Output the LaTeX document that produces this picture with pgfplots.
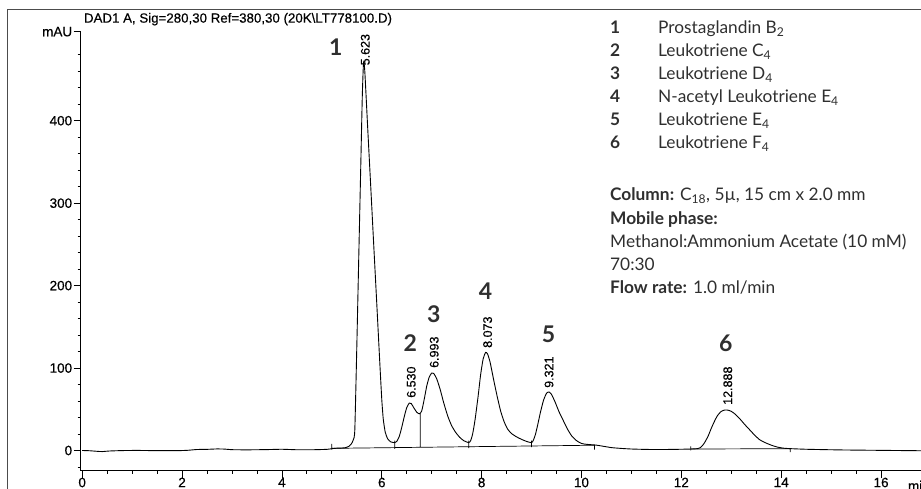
\documentclass[border=0pt]{standalone}
\usepackage{fontspec}
\setmainfont{Lato}
\newfontfamily\scan{Liberation Sans}[FakeBold=0.4]
\usepackage{pgfplots}
\pgfplotsset{compat=1.18}
\definecolor{txt}{HTML}{2F2F2F}
\tikzset{
  rt/.style={rotate=90, anchor=west, inner sep=0pt, font=\scan\fontsize{12.5}{12.5}\selectfont},
  pk/.style={font=\bfseries\fontsize{23}{23}\selectfont, text=txt},
}

% detector signal, mAU against min
\pgfplotstableread{
t s
0 0
0.15 -0.3
0.3 -1.0
0.4 -1.3
0.55 -0.6
0.8 -0.1
1.1 0.1
1.5 -0.2
1.9 -0.2
2.1 0.2
2.3 1.2
2.5 1.4
2.7 1.9
2.85 1.7
3.0 1.0
3.3 0.8
3.7 1.1
4.0 1.5
4.3 0.9
4.6 0.9
4.9 1.4
5.0 2.2
5.1 2.8
5.2 3
5.28 3.5
5.34 5
5.39 8
5.43 13
5.46 25
5.50 126
5.54 237
5.58 347
5.61 430
5.635 471
5.66 460
5.72 389
5.78 319
5.84 248
5.90 178
5.96 107
6.00 62
6.03 38
6.07 22
6.12 14
6.18 10.5
6.26 9.5
6.30 11
6.35 17
6.40 28
6.45 41
6.50 52
6.55 57.5
6.59 57
6.64 52
6.70 46.5
6.755 44.5
6.80 48
6.85 62
6.90 78
6.95 89
7.00 94
7.04 93.5
7.10 87
7.17 74
7.24 58
7.32 42
7.40 30
7.48 22
7.56 16
7.64 12
7.74 9.5
7.78 12
7.82 20
7.87 38
7.93 66
7.98 92
8.03 111
8.08 119
8.12 117
8.17 107
8.24 86
8.31 66
8.38 48
8.45 35
8.52 26
8.60 20.5
8.70 16.5
8.80 13.5
8.90 11
9.0 9.5
9.04 13
9.08 20
9.13 33
9.18 47
9.24 61
9.30 69.5
9.35 71
9.40 68
9.47 59
9.55 47
9.63 37
9.71 27
9.80 18
9.90 12
10.0 8.5
10.1 7.5
10.2 7
10.3 6.5
10.45 5
10.6 3.5
10.8 2.5
11.0 1.8
11.3 1.3
11.6 1.2
11.9 1.4
12.2 1.8
12.33 2.3
12.38 3.5
12.43 6.5
12.48 11
12.54 18
12.60 27
12.66 35
12.72 42
12.79 47
12.86 49
12.93 49
13.00 47.5
13.08 44
13.17 38.5
13.27 31.5
13.37 25
13.47 18.5
13.57 13
13.68 9.5
13.80 6.5
13.92 4.2
14.05 2.8
14.2 2.2
14.5 1.5
14.9 1
15.3 0.6
15.8 0.3
16.3 0
16.8 -0.3
}\signal

% integration baselines, drop line and peak start/end marks
\pgfplotstableread{
t s
5.0 2.6
10.26 6.4
nan nan
12.19 1.8
14.18 2.2
nan nan
6.77 3.9
6.77 45
nan nan
5.0 1
5.0 8
nan nan
6.26 2
6.26 12
nan nan
7.74 3
7.74 12
nan nan
9.0 4
9.0 12
nan nan
10.26 1
10.26 7
nan nan
12.19 0
12.19 5
nan nan
14.18 -2
14.18 3
}\marks

\begin{document}
\begin{tikzpicture}
\begin{axis}[
    scale only axis,
    width=840.3pt, height=439pt,
    xmin=-0.03, xmax=16.8,
    ymin=-24.5, ymax=508,
    axis lines*=left,
    axis line style={-, line width=0.9pt},
    xtick={0,2,...,16},
    minor x tick num=3,
    ytick={0,100,200,300,400,508},
    yticklabels={0,100,200,300,400,mAU},
    minor ytick={-20,20,40,60,80,120,140,160,180,220,240,260,280,320,340,360,380,420,440,460,480},
    tick align=outside,
    major tick length=7pt,
    minor tick length=3pt,
    tick style={black, line width=0.8pt},
    ticklabel style={font=\scan\fontsize{13.5}{13.5}\selectfont},
    yticklabel style={xshift=2pt},
    xticklabel style={yshift=3.5pt},
    /pgf/number format/assume math mode=true,
    clip=false,
]
\addplot[black, line width=0.9pt, smooth, tension=0.35] table[x=t, y=s] {\signal};
\addplot[black, line width=0.7pt, unbounded coords=jump] table[x=t, y=s] {\marks};

\node[rt] at (axis cs:5.67,467) {5.623};
\node[rt] at (axis cs:6.59,63.7) {6.530};
\node[rt] at (axis cs:7.05,100) {6.993};
\node[rt] at (axis cs:8.12,124.3) {8.073};
\node[rt] at (axis cs:9.35,75.8) {9.321};
\node[rt] at (axis cs:12.93,55.2) {12.888};

\node[pk] at (axis cs:5.08,489) {1};
\node[pk] at (axis cs:6.57,130) {2};
\node[pk] at (axis cs:7.04,165) {3};
\node[pk] at (axis cs:8.08,193) {4};
\node[pk] at (axis cs:9.34,141) {5};
\node[pk] at (axis cs:12.89,130) {6};

\node[anchor=north west, font=\scan\fontsize{13.5}{13.5}\selectfont, yshift=-6.5pt] at (axis cs:16.47,-24.5) {min};
\end{axis}

% page frame of the printout
\draw[black!70, line width=1pt] (-73.2pt,-18.3pt) -- (-73.2pt,460.7pt) -- (840.3pt,460.7pt);

\node[font=\scan\fontsize{13.3}{13.3}\selectfont] at (157.3pt,451.5pt) {DAD1 A, Sig=280,30 Ref=380,30 (20K\textbackslash LT778100.D)};

\begin{scope}[every node/.style={anchor=base west, inner sep=0pt, text=txt, font=\fontsize{17.3}{17.3}\selectfont}]
\node at (529.3pt,437.4pt) {\textbf{1}};
\node at (577.3pt,437.4pt) {Prostaglandin B\textsubscript{2}};
\node at (529.3pt,414.3pt) {\textbf{2}};
\node at (577.3pt,414.3pt) {Leukotriene C\textsubscript{4}};
\node at (529.3pt,391.2pt) {\textbf{3}};
\node at (577.3pt,391.2pt) {Leukotriene D\textsubscript{4}};
\node at (529.3pt,368.1pt) {\textbf{4}};
\node at (577.3pt,368.1pt) {N-acetyl Leukotriene E\textsubscript{4}};
\node at (529.3pt,345.0pt) {\textbf{5}};
\node at (577.3pt,345.0pt) {Leukotriene E\textsubscript{4}};
\node at (529.3pt,321.9pt) {\textbf{6}};
\node at (577.3pt,321.9pt) {Leukotriene F\textsubscript{4}};
\node at (529.3pt,269.9pt) {\textbf{Column:} C\textsubscript{18}, 5µ, 15 cm x 2.0 mm};
\node at (529.3pt,246.6pt) {\textbf{Mobile phase:}};
\node at (529.3pt,223.3pt) {Methanol:Ammonium Acetate (10 mM)};
\node at (529.3pt,200.0pt) {70:30};
\node at (529.3pt,176.7pt) {\textbf{Flow rate:} 1.0 ml/min};
\end{scope}

\pgfresetboundingbox
\path[use as bounding box] (-80.7pt,-18.3pt) rectangle (840.3pt,470.7pt);
\end{tikzpicture}
\end{document}
